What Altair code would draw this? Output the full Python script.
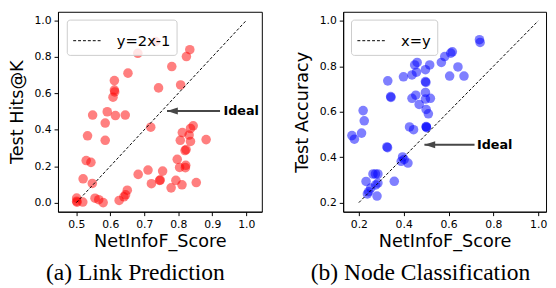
import altair as alt
import pandas as pd

# ---------------- data ----------------
# (a) Link Prediction
lp_x = [0.733, 0.681, 0.834, 0.824, 0.781, 0.652, 0.612, 0.612, 0.613, 0.608, 0.742, 0.807,
        0.548, 0.591, 0.615, 0.644, 0.585, 0.533, 0.585, 0.719, 0.529, 0.543, 0.520, 0.547,
        0.501, 0.501, 0.502, 0.519, 0.555, 0.566, 0.579, 0.626, 0.640, 0.645, 0.650, 0.682,
        0.711, 0.721, 0.745, 0.747, 0.754, 0.779, 0.793, 0.811, 0.853, 0.804, 0.821, 0.822,
        0.797, 0.820, 0.823, 0.806, 0.812, 0.832, 0.836, 0.836, 0.844, 0.882]
lp_y = [0.884, 0.820, 0.840, 0.802, 0.747, 0.711, 0.670, 0.618, 0.608, 0.579, 0.630, 0.646,
        0.481, 0.499, 0.478, 0.481, 0.437, 0.367, 0.342, 0.414, 0.231, 0.221, 0.131, 0.105,
        0.025, 0.008, 0.002, 0.003, 0.024, 0.016, 0.000, 0.012, 0.032, 0.043, 0.068, 0.155,
        0.179, 0.104, 0.122, 0.124, 0.173, 0.081, 0.122, 0.098, 0.110, 0.193, 0.192, 0.205,
        0.238, 0.286, 0.291, 0.342, 0.385, 0.371, 0.336, 0.407, 0.422, 0.346]
lp_line_x = [0.5, 1.0]
lp_line_y = [0.0, 1.0]
lp_line_label = "y=2x-1"
lp_arrow = {"tip_x": 0.767, "tail_x": 0.923, "text_x": 0.933, "y": 0.503}
lp_xticks = [0.5, 0.6, 0.7, 0.8, 0.9, 1.0]
lp_yticks = [0.0, 0.2, 0.4, 0.6, 0.8, 1.0]
lp_xdomain = [0.446, 1.046]
lp_ydomain = [-0.05, 1.048]

# (b) Node Classification
nc_x = [0.738, 0.741, 0.617, 0.610, 0.583, 0.568, 0.642, 0.605, 0.669, 0.460, 0.449, 0.516,
        0.497, 0.457, 0.437, 0.399, 0.329, 0.497, 0.499, 0.342, 0.343, 0.454, 0.437, 0.497,
        0.519, 0.497, 0.469, 0.500, 0.510, 0.500, 0.502, 0.501, 0.426, 0.444, 0.219, 0.224,
        0.212, 0.169, 0.180, 0.325, 0.328, 0.395, 0.389, 0.402, 0.419, 0.358, 0.263, 0.274,
        0.285, 0.232, 0.285, 0.275, 0.253, 0.244, 0.238, 0.281]
nc_y = [0.917, 0.905, 0.864, 0.858, 0.843, 0.817, 0.797, 0.757, 0.757, 0.817, 0.806, 0.806,
        0.785, 0.774, 0.762, 0.754, 0.736, 0.733, 0.729, 0.667, 0.663, 0.673, 0.659, 0.685,
        0.659, 0.656, 0.632, 0.610, 0.591, 0.535, 0.530, 0.533, 0.533, 0.521, 0.605, 0.560,
        0.506, 0.495, 0.479, 0.445, 0.442, 0.401, 0.382, 0.390, 0.374, 0.294, 0.326, 0.326,
        0.326, 0.293, 0.286, 0.278, 0.264, 0.248, 0.238, 0.229]
nc_line_x = [0.2, 1.0]
nc_line_y = [0.2, 1.0]
nc_line_label = "x=y"
nc_arrow = {"tip_x": 0.4925, "tail_x": 0.716, "text_x": 0.727, "y": 0.455}
nc_xticks = [0.2, 0.4, 0.6, 0.8, 1.0]
nc_yticks = [0.2, 0.4, 0.6, 0.8, 1.0]
nc_xdomain = [0.130, 1.035]
nc_ydomain = [0.16, 1.04]

x_title = "NetInfoF_Score"
FONT = "DejaVu Sans"
ARROW_COLOR = "#474747"
ARROW_HEAD = "M-1,0L1,-0.64L1,0.64Z"


def panel(px, py, color, line_x, line_y, line_label, arrow, xdom, ydom,
          xticks, yticks, ytitle, caption, legend_xy, w, h):
    pts = pd.DataFrame({"x": px, "y": py})
    ln = pd.DataFrame({"x": line_x, "y": line_y, "label": [line_label] * len(line_x)})
    arr = pd.DataFrame([arrow])
    xs = alt.Scale(domain=xdom, nice=False, zero=False)
    ys = alt.Scale(domain=ydom, nice=False, zero=False)
    xax = alt.Axis(values=xticks, format=".1f", title=x_title)
    yax = alt.Axis(values=yticks, format=".1f", title=ytitle)

    points = alt.Chart(pts).mark_circle(size=95, opacity=0.5, color=color).encode(
        x=alt.X("x:Q", scale=xs, axis=xax),
        y=alt.Y("y:Q", scale=ys, axis=yax),
    )
    line = alt.Chart(ln).mark_line(strokeDash=[3, 2], strokeWidth=1).encode(
        x=alt.X("x:Q", scale=xs, axis=xax),
        y=alt.Y("y:Q", scale=ys, axis=yax),
        color=alt.Color(
            "label:N",
            scale=alt.Scale(range=["black"]),
            legend=alt.Legend(
                title=None, orient="none", legendX=legend_xy[0], legendY=legend_xy[1],
                fillColor="rgba(255,255,255,0.8)", strokeColor="#cccccc", cornerRadius=3,
                padding=6, labelFont=FONT, labelFontSize=15, labelColor="black",
                symbolType="stroke", symbolSize=900, symbolStrokeWidth=1,
                symbolDash=[3, 2], labelOffset=14,
            ),
        ),
    )
    shaft = alt.Chart(arr).mark_rule(strokeWidth=2, color=ARROW_COLOR).encode(
        x=alt.X("tip_x:Q", scale=xs), x2="tail_x:Q", y=alt.Y("y:Q", scale=ys)
    )
    head = alt.Chart(arr).mark_point(
        shape=ARROW_HEAD, size=121, filled=True, opacity=1, color=ARROW_COLOR, xOffset=5.5
    ).encode(x=alt.X("tip_x:Q", scale=xs), y=alt.Y("y:Q", scale=ys))
    label = alt.Chart(arr).mark_text(
        text="Ideal", font=FONT, fontSize=13, fontWeight="bold", align="left",
        baseline="middle", color="black",
    ).encode(x=alt.X("text_x:Q", scale=xs), y=alt.Y("y:Q", scale=ys))

    return alt.layer(points, line, shaft, head, label).properties(
        width=w, height=h,
        title=alt.TitleParams(
            text=caption, orient="bottom", anchor="middle", frame="bounds",
            font="Liberation Serif", fontSize=24, fontWeight="normal", color="black", offset=11,
        ),
    )


left = panel(lp_x, lp_y, "red", lp_line_x, lp_line_y, lp_line_label, lp_arrow,
             lp_xdomain, lp_ydomain, lp_xticks, lp_yticks, "Test Hits@K",
             "(a) Link Prediction", (9, 8), 208, 204)
right = panel(nc_x, nc_y, "blue", nc_line_x, nc_line_y, nc_line_label, nc_arrow,
              nc_xdomain, nc_ydomain, nc_xticks, nc_yticks, "Test Accuracy",
              "(b) Node Classification", (8, 8), 207, 204)

chart = (
    alt.hconcat(left, right, spacing=31)
    .resolve_scale(color="independent")
    .resolve_legend(color="independent")
    .properties(padding=0)
    .configure_view(stroke="black", strokeWidth=1)
    .configure_axis(
        grid=False, domainColor="black", domainWidth=1, tickColor="black", tickWidth=1,
        tickSize=4, labelFont=FONT, labelFontSize=11, labelColor="black", labelPadding=3,
        labelFlush=False, titleFont=FONT, titleFontSize=18, titleFontWeight="normal",
        titleColor="black",
    )
    .configure_axisX(titlePadding=4)
    .configure_axisY(titlePadding=7.5)
)

chart.save("out.html", embed_options={"renderer": "svg", "actions": False})
